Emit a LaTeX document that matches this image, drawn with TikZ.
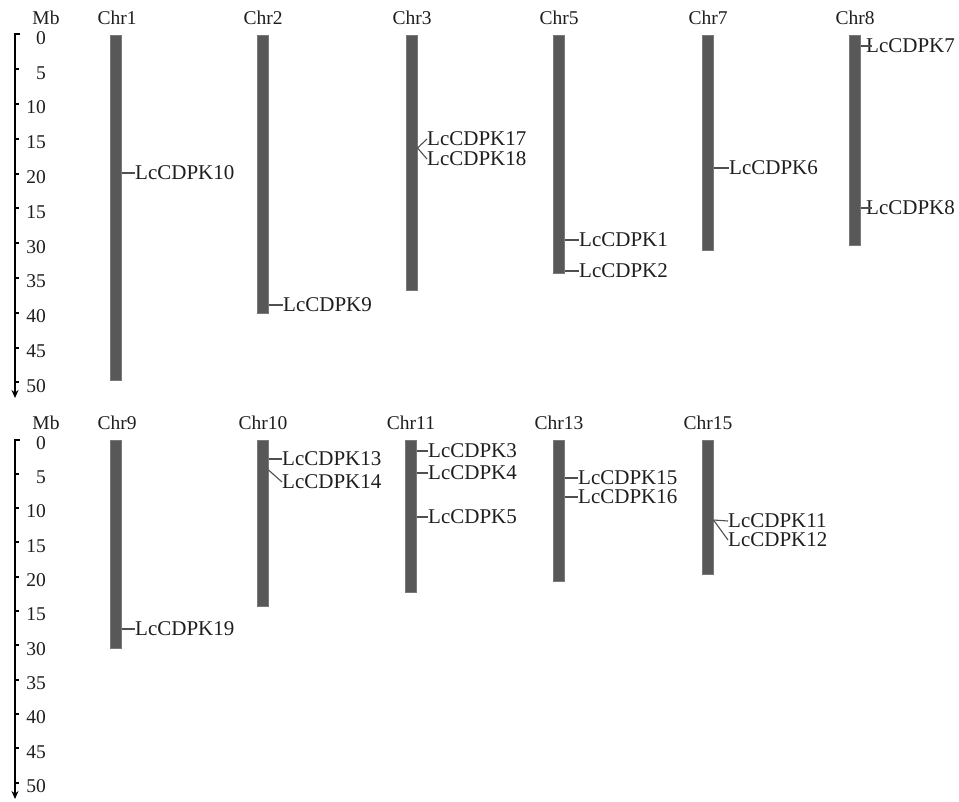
\documentclass[tikz,border=0pt]{standalone}
\usepackage{fontspec}
\setmainfont{Liberation Serif}
\usetikzlibrary{arrows.meta}
\definecolor{barfill}{RGB}{88,88,88}
\definecolor{inkc}{RGB}{30,30,30}
\tikzset{
  bar/.style={fill=barfill, draw=barfill!80!white, line width=0.6pt, minimum width=11pt, inner sep=0pt, anchor=north},
  gene/.style={anchor=west, inner sep=0pt, text=inkc, font=\fontsize{21}{21}\selectfont},
  head/.style={inner sep=0pt, text=inkc, font=\fontsize{19.5}{19.5}\selectfont},
  num/.style={anchor=east, inner sep=0pt, text=inkc, font=\fontsize{19.5}{19.5}\selectfont},
  link/.style={draw=barfill!90!black, line width=1.1pt},
  axis/.style={draw=black, line width=2.2pt},
  tick/.style={draw=black, line width=2pt}
}
\begin{document}
\begin{tikzpicture}[x=1pt,y=-1pt]
\useasboundingbox (0,0) rectangle (959,802);

% ---------- scale bars ----------
\foreach \p/\top/\lab/\stp/\tip in {a/34.5/38/34.8/398, b/439.5/443/34.3/799}{
  \draw[axis,-{Stealth[length=8pt,width=7pt]}] (15,\top) -- (15,\tip);
  \draw[tick] (14,\top) -- (20,\top);
  \foreach \i/\t in {1/5,2/10,3/15,4/20,5/15,6/30,7/35,8/40,9/45,10/50}{
    \draw[tick] (15,{\top+\stp*\i}) -- (18.5,{\top+\stp*\i});
    \node[num] (\p\i) at (46,{\lab+\stp*\i}) {\t};
  }
  \node[num] (\p0) at (46,\lab) {0};
}
\node[head] (mba) at (46,18) {Mb};
\node[head] (mbb) at (46,423) {Mb};

% ---------- chromosomes, upper row ----------
\node[bar, minimum height=345pt] (chr1) at (116,35) {};
\node[bar, minimum height=278pt] (chr2) at (263,35) {};
\node[bar, minimum height=255pt] (chr3) at (412,35) {};
\node[bar, minimum height=238pt] (chr5) at (559,35) {};
\node[bar, minimum height=215pt] (chr7) at (708,35) {};
\node[bar, minimum height=210pt] (chr8) at (855,35) {};
\foreach \c/\x in {1/117,2/263,3/412,5/559,7/708,8/855}
  \node[head] (h\c) at (\x,18) {Chr\c};

% ---------- chromosomes, lower row ----------
\node[bar, minimum height=208pt] (chr9) at (116,440) {};
\node[bar, minimum height=166pt] (chr10) at (263,440) {};
\node[bar, minimum height=152pt] (chr11) at (411,440) {};
\node[bar, minimum height=141pt] (chr13) at (559,440) {};
\node[bar, minimum height=134pt] (chr15) at (708,440) {};
\foreach \c/\x in {9/117,10/263,11/411,13/559,15/708}
  \node[head] (h\c) at (\x,423) {Chr\c};

% ---------- gene labels, upper row ----------
\node[gene] (k10) at (135,173) {LcCDPK10};
\node[gene] (k9)  at (283,305) {LcCDPK9};
\node[gene] (k17) at (427,139) {LcCDPK17};
\node[gene] (k18) at (427,159) {LcCDPK18};
\node[gene] (k1)  at (579,240) {LcCDPK1};
\node[gene] (k2)  at (579,271) {LcCDPK2};
\node[gene] (k6)  at (729,168) {LcCDPK6};
\node[gene] (k7)  at (866,46)  {LcCDPK7};
\node[gene] (k8)  at (866,208) {LcCDPK8};

\draw[link] (chr1.east |- k10.west) -- (k10.west);
\draw[link] (chr2.east |- k9.west) -- (k9.west);
\coordinate (j3) at (417.5,148);
\draw[link] (j3) -- (k17.west);
\draw[link] (j3) -- (k18.west);
\draw[link] (chr5.east |- k1.west) -- (k1.west);
\draw[link] (chr5.east |- k2.west) -- (k2.west);
\draw[link] (chr7.east |- k6.west) -- (k6.west);
\draw[link] (chr8.east |- k7.west) -- ([xshift=6pt]k7.west);
\draw[link] (chr8.east |- k8.west) -- ([xshift=6pt]k8.west);

% ---------- gene labels, lower row ----------
\node[gene] (k19) at (135,629) {LcCDPK19};
\node[gene] (k13) at (282,459) {LcCDPK13};
\node[gene] (k14) at (282,482) {LcCDPK14};
\node[gene] (k3)  at (428,451) {LcCDPK3};
\node[gene] (k4)  at (428,473) {LcCDPK4};
\node[gene] (k5)  at (428,517) {LcCDPK5};
\node[gene] (k15) at (578,478) {LcCDPK15};
\node[gene] (k16) at (578,497) {LcCDPK16};
\node[gene] (k11) at (728,521) {LcCDPK11};
\node[gene] (k12) at (728,540) {LcCDPK12};

\draw[link] (chr9.east |- k19.west) -- (k19.west);
\draw[link] (chr10.east |- k13.west) -- (k13.west);
\coordinate (j14) at (268.5,470);
\draw[link] (j14) -- (k14.west);
\draw[link] (chr11.east |- k3.west) -- (k3.west);
\draw[link] (chr11.east |- k4.west) -- (k4.west);
\draw[link] (chr11.east |- k5.west) -- (k5.west);
\draw[link] (chr13.east |- k15.west) -- (k15.west);
\draw[link] (chr13.east |- k16.west) -- (k16.west);
\coordinate (j15) at (713.5,520);
\draw[link] (j15) -- (k11.west);
\draw[link] (j15) -- (k12.west);
\end{tikzpicture}
\end{document}
